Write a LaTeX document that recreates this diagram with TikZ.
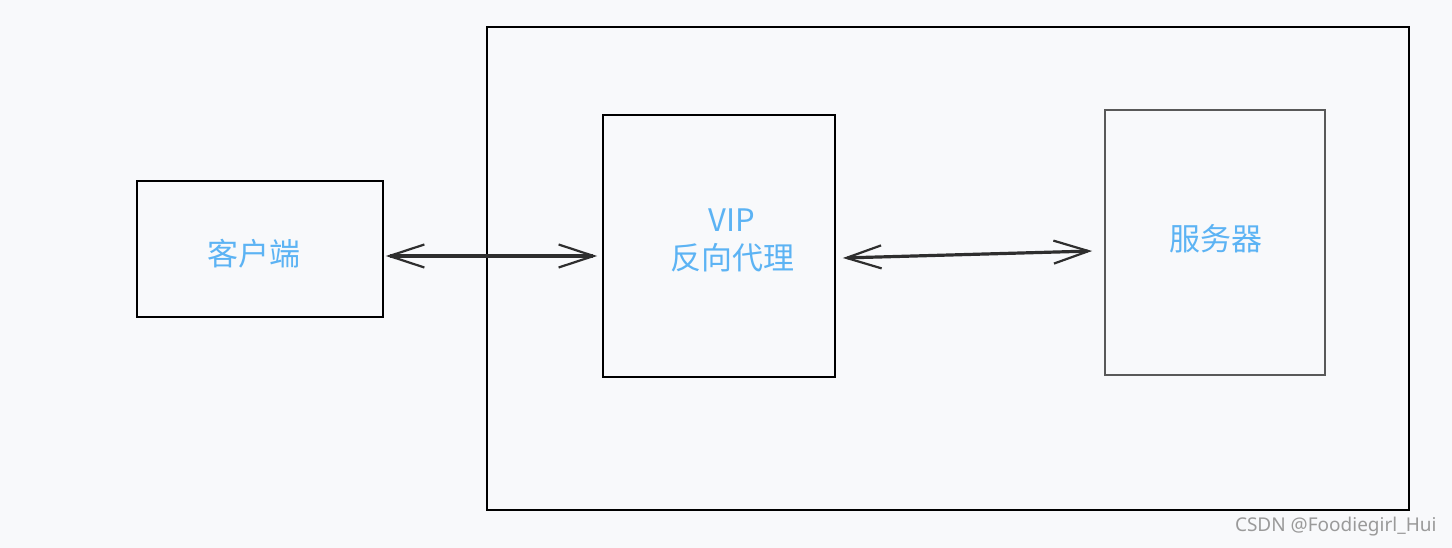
\documentclass[tikz,border=0pt]{standalone}
\usepackage{fontspec}
\newfontfamily\cjk{Noto Sans CJK SC}
\newfontfamily\wm{Noto Sans}
\usetikzlibrary{arrows.meta}
\definecolor{bg}{HTML}{F8F9FB}
\definecolor{lbl}{HTML}{5CB3F4}
\definecolor{wmc}{HTML}{9A9A9A}
\definecolor{arr}{HTML}{2E2E2E}
\begin{document}
\begin{tikzpicture}[x=1pt,y=-1pt,
  box/.style={draw=black,line width=1.7pt,inner sep=0pt},
  lab/.style={text=lbl,font=\cjk\fontsize{31}{38}\selectfont,align=center},
  link/.style={draw=arr,line width=3.2pt,{Straight Barb[length=35pt,width=23pt,line width=2.2pt]}-{Straight Barb[length=35pt,width=23pt,line width=2.2pt]}}]
\fill[bg] (0,0) rectangle (1452,548);
\useasboundingbox (0,0) rectangle (1452,548);
\node[box,minimum width=922pt,minimum height=483pt] (outer) at (948,268.5) {};
\node[box,minimum width=246pt,minimum height=136pt] (client) at (260,249) {};
\node[box,minimum width=232pt,minimum height=262pt] (vip) at (719,246) {};
\node[box,draw=black!65,minimum width=220pt,minimum height=265pt] (server) at (1215,242.5) {};
\node[lab] (clientt) at (254,254) {客户端};
\node[lab] (vipt) at (732,240) {VIP\\反向代理};
\node[lab] (servert) at (1216,239) {服务器};
\node[text=wmc,font=\wm\fontsize{19}{22}\selectfont,anchor=east] (wmark) at (1440,527) {CSDN @Foodiegirl\_Hui};
\draw[link] ([xshift=2pt,yshift=-7pt]client.east) -- ([xshift=-5pt,yshift=-10pt]vip.west);
\draw[link] ([xshift=7pt,yshift=-12pt]vip.east) -- ([xshift=-12pt,yshift=-8.5pt]server.west);
\end{tikzpicture}
\end{document}
